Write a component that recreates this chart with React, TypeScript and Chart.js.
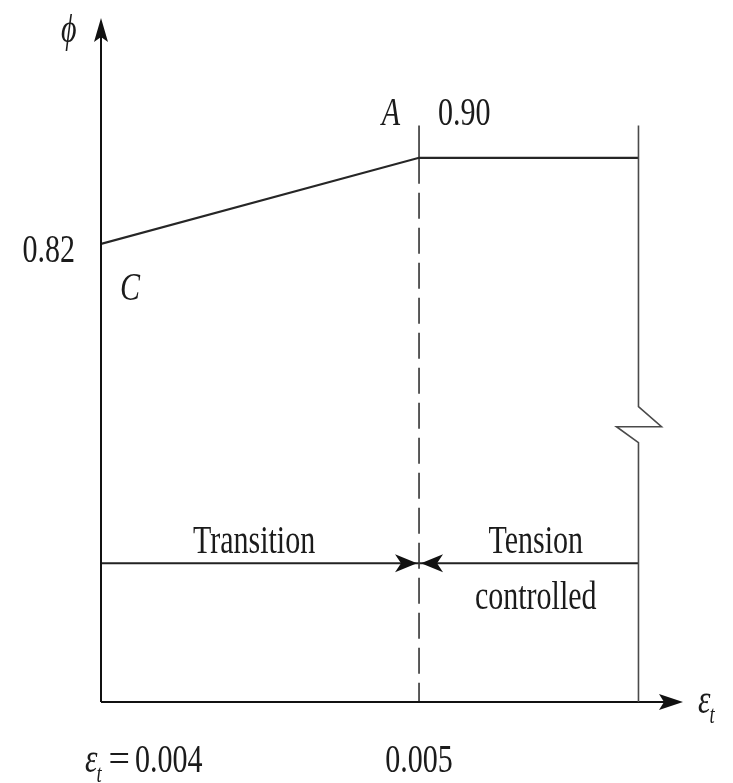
import React, { useEffect, useRef } from "react";
import { Chart, registerables } from "chart.js";

Chart.register(...registerables);

// ---- data (strain εt on x, strength reduction factor φ on y) ----
const strainPoints = [0.004, 0.005, 0.00569];
const phiPoints = [0.82, 0.9, 0.9];
const strainRange = [0.004, 0.00583];
const phiRange = [0.394, 1.03];
const transitionLimit = 0.005;
const tensionLimit = 0.00569;
const boundaryTop = 0.93;
const zoneArrowLevel = 0.523;
const breakLevel = 0.65;
const zoneLabels = ["Transition", "Tension", "controlled"];
const pointLabels = ["C", "A"];
const phiLabels = ["0.82", "0.90"];
const strainLabels = ["0.004", "0.005"];

const FONT = '"Liberation Serif", "Times New Roman", serif';
const SX = 0.75;
const INK = "#1b1b1b";

function txt(
  ctx: CanvasRenderingContext2D,
  s: string,
  x: number,
  y: number,
  size: number,
  italic = false,
  align: "left" | "center" | "right" = "left",
  sx = SX
) {
  ctx.save();
  ctx.font = `${italic ? "italic " : ""}${size}px ${FONT}`;
  const w = ctx.measureText(s).width * sx;
  let x0 = x;
  if (align === "center") x0 = x - w / 2;
  if (align === "right") x0 = x - w;
  ctx.translate(x0, y);
  ctx.scale(sx, 1);
  ctx.textAlign = "left";
  ctx.textBaseline = "alphabetic";
  ctx.fillStyle = INK;
  ctx.fillText(s, 0, 0);
  ctx.restore();
  return w;
}

function arrowHead(
  ctx: CanvasRenderingContext2D,
  tipX: number,
  tipY: number,
  dirX: number,
  dirY: number,
  len: number,
  half: number,
  notch: number
) {
  const px = -dirY;
  const py = dirX;
  const bx = tipX - dirX * len;
  const by = tipY - dirY * len;
  ctx.beginPath();
  ctx.moveTo(tipX, tipY);
  ctx.lineTo(bx + px * half, by + py * half);
  ctx.lineTo(bx + dirX * notch, by + dirY * notch);
  ctx.lineTo(bx - px * half, by - py * half);
  ctx.closePath();
  ctx.fillStyle = "#111";
  ctx.fill();
}

function epsT(ctx: CanvasRenderingContext2D, x: number, y: number, size: number) {
  const w = txt(ctx, "ε", x, y, size * 1.05, true);
  const w2 = txt(ctx, "t", x + w - 1, y + 10, size * 0.62, true);
  return w + w2 - 1;
}

const decorPlugin = {
  id: "decor",
  afterDatasetsDraw(chart: any) {
    const ctx: CanvasRenderingContext2D = chart.ctx;
    const xs = chart.scales.x;
    const ys = chart.scales.y;
    const area = chart.chartArea;
    const left = area.left;
    const bottom = area.bottom;
    ctx.save();

    // axes
    ctx.strokeStyle = "#111";
    ctx.lineWidth = 2;
    ctx.beginPath();
    ctx.moveTo(left, bottom);
    ctx.lineTo(left, area.top + 14);
    ctx.moveTo(left, bottom);
    ctx.lineTo(area.right - 14, bottom);
    ctx.stroke();
    arrowHead(ctx, left, area.top, 0, -1, 24, 7, 5);
    arrowHead(ctx, area.right, bottom, 1, 0, 24, 8, 5);

    // right boundary with break symbol
    const rx = xs.getPixelForValue(tensionLimit);
    const bTop = ys.getPixelForValue(boundaryTop);
    const bY = ys.getPixelForValue(breakLevel);
    ctx.strokeStyle = "#4a4a4a";
    ctx.lineWidth = 1.6;
    ctx.beginPath();
    ctx.moveTo(rx, bTop);
    ctx.lineTo(rx, bY - 20);
    ctx.lineTo(rx + 23, bY);
    ctx.lineTo(rx - 22, bY);
    ctx.lineTo(rx, bY + 16);
    ctx.lineTo(rx, bottom);
    ctx.stroke();

    // zone arrowheads
    const mx = xs.getPixelForValue(transitionLimit);
    const ay = ys.getPixelForValue(zoneArrowLevel);
    arrowHead(ctx, mx - 2, ay, 1, 0, 22, 9, 6);
    arrowHead(ctx, mx + 2, ay, -1, 0, 22, 9, 6);

    // labels
    const size = 40;
    const cX = xs.getPixelForValue(strainPoints[0]);
    const cY = ys.getPixelForValue(phiPoints[0]);
    const aX = xs.getPixelForValue(strainPoints[1]);
    const aY = ys.getPixelForValue(phiPoints[1]);
    txt(ctx, "ϕ", left - 40, 42, size, true);
    txt(ctx, phiLabels[0], left - 26, cY + 18, size, false, "right");
    txt(ctx, pointLabels[0], cX + 19, cY + 56, size, true);
    txt(ctx, pointLabels[1], aX - 19, aY - 33, size, true, "right");
    txt(ctx, phiLabels[1], aX + 19, aY - 33, size, false);

    txt(ctx, zoneLabels[0], (cX + mx) / 2 - 6, ay - 10, size, false, "center");
    txt(ctx, zoneLabels[1], (mx + rx) / 2 + 7, ay - 10, size, false, "center");
    txt(ctx, zoneLabels[2], (mx + rx) / 2 + 7, ay + 46, size, false, "center");

    // bottom labels
    const by = bottom + 70;
    let x = 85;
    x += epsT(ctx, x, by, size);
    x += 7;
    x += txt(ctx, "=", x, by, size, false, "left", 0.95);
    txt(ctx, strainLabels[0], x + 5, by, size, false);
    txt(ctx, strainLabels[1], aX, by, size, false, "center");
    epsT(ctx, area.right + 15, bottom + 11, size);

    ctx.restore();
  },
};

export default function App() {
  const ref = useRef<HTMLCanvasElement | null>(null);

  useEffect(() => {
    if (!ref.current) return;
    const mainLine = strainPoints.map((x, i) => ({ x, y: phiPoints[i] }));
    const chart = new Chart(ref.current, {
      type: "scatter",
      data: {
        datasets: [
          {
            data: mainLine,
            showLine: true,
            borderColor: "#262626",
            borderWidth: 2.2,
            pointRadius: 0,
          },
          {
            data: [
              { x: transitionLimit, y: phiPoints[1] },
              { x: transitionLimit, y: phiRange[0] },
            ],
            showLine: true,
            borderColor: "#333",
            borderWidth: 1.6,
            borderDash: [26, 9],
            pointRadius: 0,
          },
          {
            data: [
              { x: transitionLimit, y: phiPoints[1] },
              { x: transitionLimit, y: boundaryTop },
            ],
            showLine: true,
            borderColor: "#333",
            borderWidth: 1.6,
            pointRadius: 0,
          },
          {
            data: [
              { x: strainPoints[0], y: zoneArrowLevel },
              { x: transitionLimit, y: zoneArrowLevel },
            ],
            showLine: true,
            borderColor: "#222",
            borderWidth: 2,
            pointRadius: 0,
          },
          {
            data: [
              { x: transitionLimit, y: zoneArrowLevel },
              { x: tensionLimit, y: zoneArrowLevel },
            ],
            showLine: true,
            borderColor: "#222",
            borderWidth: 2,
            pointRadius: 0,
          },
        ],
      },
      options: {
        responsive: false,
        animation: false,
        devicePixelRatio: 1,
        layout: { padding: { left: 101, right: 50, top: 18, bottom: 81 } },
        plugins: { legend: { display: false }, tooltip: { enabled: false } },
        scales: {
          x: { type: "linear", min: strainRange[0], max: strainRange[1], display: false },
          y: { type: "linear", min: phiRange[0], max: phiRange[1], display: false },
        },
      },
      plugins: [decorPlugin],
    });
    return () => chart.destroy();
  }, []);

  return (
    <div style={{ position: "absolute", left: 0, top: 0, width: 733, height: 783, background: "#fff" }}>
      <canvas ref={ref} width={733} height={783} style={{ display: "block" }} />
    </div>
  );
}
